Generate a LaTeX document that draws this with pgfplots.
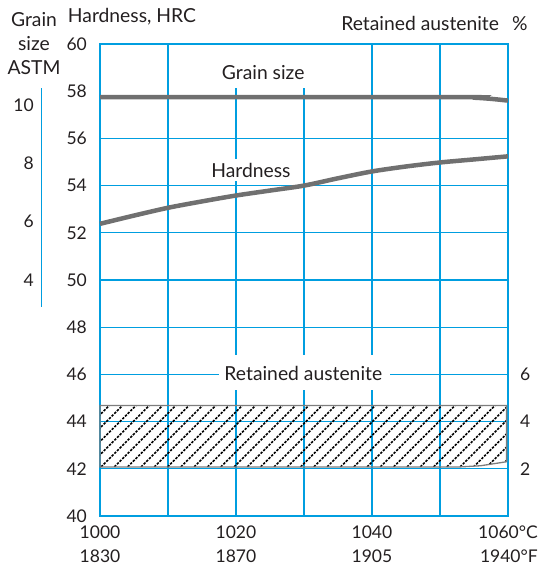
\documentclass[border=0pt]{standalone}
\usepackage{pgfplots}
\pgfplotsset{compat=1.18}
\usepackage{fontspec}
\setmainfont{Lato}
\usetikzlibrary{patterns}
\definecolor{gridblue}{RGB}{0,158,224}
\definecolor{curvegray}{RGB}{112,112,112}
\definecolor{bandgray}{RGB}{125,125,125}
\definecolor{txt}{RGB}{35,31,32}
\pgfdeclarepatternformonly{dashhatch}{\pgfqpoint{-1pt}{-1pt}}{\pgfqpoint{14.3pt}{14.3pt}}{\pgfqpoint{13.3pt}{13.3pt}}{%
  \pgfsetlinewidth{1.6pt}%
  \pgfsetdash{{2.4pt}{1.36pt}}{0pt}%
  \pgfpathmoveto{\pgfqpoint{0pt}{0pt}}%
  \pgfpathlineto{\pgfqpoint{13.3pt}{13.3pt}}%
  \pgfusepath{stroke}%
}
\newcommand\F{\fontsize{17.5}{24}\selectfont}
\newcommand\T{\fontsize{19.3}{24}\selectfont}
\pgfplotsset{common/.style={
  at={(100pt,52pt)}, anchor=south west, scale only axis,
  width=408pt, height=472pt, xmin=1000, xmax=1060,
  major tick length=0pt, minor tick length=0pt,
  /pgf/number format/assume math mode=true,
  tick label style={font=\F, text=txt},
  clip=false}}
\begin{document}
\begin{tikzpicture}
\path[use as bounding box] (0,0) rectangle (545pt,568pt);
\begin{axis}[common,
  ymin=40, ymax=60,
  xtick={1000,1020,1040,1060}, minor xtick={1010,1030,1050},
  xticklabels={{1000\\1830},{1020\\1870},{1040\\1905},{1060°C\\1940°F}},
  ytick={40,42,...,56,60},
  extra y ticks={58}, extra y tick style={grid=none},
  grid=both, grid style={gridblue, line width=1.1pt},
  minor grid style={gridblue, line width=1.1pt},
  major grid style={gridblue, line width=1.1pt},
  axis line style={gridblue, line width=1.4pt},
  xticklabel style={align=right, inner sep=0pt, yshift=-10pt},
  yticklabel style={inner sep=0pt, xshift=-13pt},
]
\addplot[curvegray, line width=4.5pt, smooth] coordinates {
 (1000,52.38) (1005,52.73) (1010,53.06) (1015,53.33) (1020,53.58) (1025,53.79)
 (1030,54.0) (1035,54.31) (1040,54.6) (1045,54.81) (1050,54.98) (1055,55.11) (1060,55.24)};
\fill[white] (axis cs:1017.35,59.96) rectangle (axis cs:1030.9,58.15);
\node[font=\T, text=txt] at (axis cs:1024,58.81) {Grain size};
\node[font=\T, text=txt, fill=white, inner sep=4pt] at (axis cs:1022.2,54.66) {Hardness};
\fill[white] (axis cs:1017.5,46.82) rectangle (axis cs:1042.6,45.34);
\node[font=\T, text=txt] at (axis cs:1029.9,46.02) {Retained austenite};
\end{axis}
\begin{axis}[common,
  ymin=-4.09, ymax=12.09,
  hide x axis, axis y line*=left, y axis line style={draw=none},
  ytick={4,6,8,10},
  yticklabel style={inner sep=0pt, xshift=-66pt},
]
\addplot[curvegray, line width=4.5pt, smooth] coordinates {
 (1000,10.27) (1052,10.27) (1055,10.25) (1057.5,10.21) (1060,10.15)};
\draw[gridblue, line width=1pt] ([xshift=-58pt]axis cs:1000,3.08) -- ([xshift=-58pt]axis cs:1000,10.58);
\end{axis}
\begin{axis}[common,
  ymin=0, ymax=20,
  hide x axis, axis y line*=right, y axis line style={draw=none},
  ytick={2,4,6},
  yticklabel style={inner sep=0pt, xshift=12pt},
]
\addplot[draw=bandgray, line width=1.3pt, pattern=dashhatch, pattern color=black]
 coordinates {(1000,2.08) (1053,2.08) (1056,2.13) (1059.8,2.3) (1059.8,4.68) (1000,4.68)} -- cycle;
\end{axis}
\node[font=\T, text=txt] at (132pt,551pt) {Hardness, HRC};
\node[font=\T, text=txt, align=center] at (34pt,524pt) {Grain\\size\\ASTM};
\node[font=\T, text=txt, anchor=east] at (531pt,545pt) {Retained austenite\hspace{13pt}\%};
\end{tikzpicture}
\end{document}
